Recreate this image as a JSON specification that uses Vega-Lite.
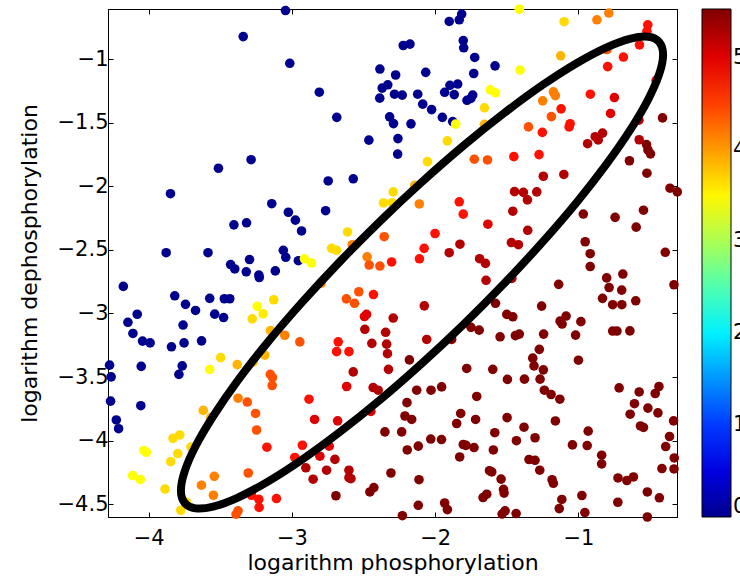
{
  "$schema": "https://vega.github.io/schema/vega-lite/v6.json",
  "width": 569,
  "height": 508,
  "autosize": {"type": "none"},
  "padding": {"left": 108, "top": 9, "right": 63, "bottom": 61},
  "background": "white",
  "config": {
    "font": "DejaVu Sans",
    "view": {"stroke": "#000000", "strokeWidth": 1},
    "axis": {"grid": false, "domainColor": "#000000", "tickColor": "#000000", "labelColor": "#000000", "titleColor": "#000000", "labelFont": "DejaVu Sans", "titleFont": "DejaVu Sans", "labelFontSize": 21, "titleFontSize": 22, "titleFontWeight": "normal", "tickSize": -5, "domainWidth": 1, "tickWidth": 1}
  },
  "layer": [
    {
      "data": {"values": [
        {"x":-3.045,"y":-0.618,"v":0},{"x":-3.340,"y":-0.823,"v":0},{"x":-3.015,"y":-1.033,"v":0},{"x":-3.285,"y":-1.791,"v":0},{"x":-3.513,"y":-1.858,"v":0},{"x":-3.848,"y":-2.058,"v":0},{"x":-3.141,"y":-2.137,"v":0},{"x":-3.025,"y":-2.204,"v":0},{"x":-2.976,"y":-2.266,"v":0},{"x":-3.317,"y":-2.287,"v":0},{"x":-3.405,"y":-2.303,"v":0},{"x":-2.933,"y":-2.351,"v":0},{"x":-3.878,"y":-2.522,"v":0},{"x":-3.586,"y":-2.522,"v":0},{"x":-3.060,"y":-2.503,"v":0},{"x":-3.043,"y":-2.558,"v":0},{"x":-3.296,"y":-2.576,"v":0},{"x":-2.955,"y":-2.585,"v":0},{"x":-3.428,"y":-2.615,"v":0},{"x":-3.399,"y":-2.650,"v":0},{"x":-3.319,"y":-2.672,"v":0},{"x":-3.231,"y":-2.698,"v":0},{"x":-3.228,"y":-2.717,"v":0},{"x":-3.116,"y":-2.665,"v":0},{"x":-4.177,"y":-2.787,"v":0},{"x":-3.818,"y":-2.861,"v":0},{"x":-3.743,"y":-2.928,"v":0},{"x":-3.673,"y":-2.976,"v":0},{"x":-3.574,"y":-2.881,"v":0},{"x":-3.472,"y":-2.884,"v":0},{"x":-3.434,"y":-2.884,"v":0},{"x":-3.539,"y":-3.005,"v":0},{"x":-3.477,"y":-3.032,"v":0},{"x":-4.080,"y":-3.006,"v":0},{"x":-4.145,"y":-3.069,"v":0},{"x":-4.110,"y":-3.157,"v":0},{"x":-4.043,"y":-3.217,"v":0},{"x":-3.990,"y":-3.231,"v":0},{"x":-3.760,"y":-3.091,"v":0},{"x":-3.753,"y":-3.231,"v":0},{"x":-3.841,"y":-3.262,"v":0},{"x":-3.631,"y":-3.215,"v":0},{"x":-4.273,"y":-3.406,"v":0},{"x":-4.262,"y":-3.498,"v":0},{"x":-4.052,"y":-3.416,"v":0},{"x":-3.766,"y":-3.412,"v":0},{"x":-3.789,"y":-3.479,"v":0},{"x":-4.266,"y":-3.689,"v":0},{"x":-4.055,"y":-3.725,"v":0},{"x":-4.226,"y":-3.837,"v":0},{"x":-4.210,"y":-3.906,"v":0},
        {"x":-1.815,"y":-0.646,"v":0},{"x":-1.832,"y":-0.691,"v":0},{"x":-1.902,"y":-0.704,"v":0},{"x":-1.804,"y":-0.854,"v":0},{"x":-1.801,"y":-0.911,"v":0},{"x":-1.724,"y":-0.987,"v":0},{"x":-1.731,"y":-1.113,"v":0},{"x":-2.223,"y":-0.893,"v":0},{"x":-2.176,"y":-0.882,"v":0},{"x":-2.386,"y":-1.078,"v":0},{"x":-2.276,"y":-1.125,"v":0},{"x":-2.066,"y":-1.104,"v":0},{"x":-2.809,"y":-1.260,"v":0},{"x":-2.370,"y":-1.228,"v":0},{"x":-2.331,"y":-1.202,"v":0},{"x":-2.387,"y":-1.307,"v":0},{"x":-2.284,"y":-1.276,"v":0},{"x":-2.230,"y":-1.283,"v":0},{"x":-2.122,"y":-1.276,"v":0},{"x":-2.087,"y":-1.354,"v":0},{"x":-2.025,"y":-1.397,"v":0},{"x":-1.934,"y":-1.261,"v":0},{"x":-1.897,"y":-1.206,"v":0},{"x":-1.843,"y":-1.196,"v":0},{"x":-1.867,"y":-1.279,"v":0},{"x":-1.738,"y":-1.283,"v":0},{"x":-1.778,"y":-1.324,"v":0},{"x":-1.751,"y":-1.309,"v":0},{"x":-2.687,"y":-1.458,"v":0},{"x":-2.318,"y":-1.454,"v":0},{"x":-2.291,"y":-1.507,"v":0},{"x":-2.169,"y":-1.509,"v":0},{"x":-1.950,"y":-1.458,"v":0},{"x":-1.878,"y":-1.491,"v":0},{"x":-2.463,"y":-1.637,"v":0},{"x":-2.260,"y":-1.625,"v":0},{"x":-2.262,"y":-1.747,"v":0},{"x":-2.747,"y":-1.958,"v":0},{"x":-2.572,"y":-1.941,"v":0},{"x":-2.765,"y":-2.192,"v":0},{"x":-1.582,"y":-1.053,"v":0},
        {"x":-1.413,"y":-0.608,"v":3.45},{"x":-1.407,"y":-1.086,"v":3.45},{"x":-1.615,"y":-1.242,"v":3.45},{"x":-1.579,"y":-1.265,"v":3.45},{"x":-1.857,"y":-1.511,"v":3.45},{"x":-2.913,"y":-2.570,"v":3.45},{"x":-2.863,"y":-2.603,"v":3.45},{"x":-3.242,"y":-2.944,"v":3.45},{"x":-3.574,"y":-3.440,"v":3.45},{"x":-4.033,"y":-4.077,"v":3.45},{"x":-4.016,"y":-4.091,"v":3.45},{"x":-4.112,"y":-4.274,"v":3.45},{"x":-4.059,"y":-4.305,"v":3.45},{"x":-3.201,"y":-3.002,"v":3.55},
        {"x":-1.100,"y":-0.706,"v":3.65},{"x":-1.656,"y":-1.383,"v":3.65},{"x":-1.915,"y":-1.643,"v":3.65},{"x":-2.054,"y":-1.806,"v":3.65},{"x":-2.293,"y":-2.044,"v":3.65},{"x":-2.361,"y":-2.131,"v":3.65},{"x":-2.300,"y":-2.129,"v":3.65},{"x":-2.612,"y":-2.359,"v":3.65},{"x":-2.723,"y":-2.488,"v":3.65},{"x":-2.688,"y":-2.503,"v":3.65},{"x":-3.127,"y":-2.892,"v":3.65},{"x":-3.277,"y":-3.042,"v":3.65},{"x":-3.497,"y":-3.347,"v":3.65},{"x":-3.830,"y":-3.982,"v":3.65},{"x":-3.783,"y":-3.955,"v":3.65},{"x":-3.797,"y":-4.101,"v":3.65},{"x":-3.846,"y":-4.165,"v":3.65},{"x":-3.705,"y":-4.050,"v":3.65},{"x":-3.886,"y":-4.380,"v":3.65},{"x":-3.738,"y":-4.482,"v":3.65},{"x":-3.776,"y":-4.547,"v":3.65},
        {"x":-1.124,"y":-0.974,"v":3.85},{"x":-1.656,"y":-1.513,"v":3.85},{"x":-2.143,"y":-1.993,"v":3.85},{"x":-3.382,"y":-3.402,"v":3.85},{"x":-3.271,"y":-3.380,"v":3.85},{"x":-3.189,"y":-3.327,"v":3.85},{"x":-3.150,"y":-3.134,"v":3.85},{"x":-3.619,"y":-3.762,"v":3.85},{"x":-3.567,"y":-3.819,"v":3.85},
        {"x":-0.871,"y":-0.691,"v":4.15},{"x":-0.788,"y":-0.638,"v":4.15},{"x":-1.250,"y":-1.328,"v":4.15},{"x":-1.175,"y":-1.257,"v":4.15},{"x":-1.161,"y":-1.287,"v":4.15},{"x":-2.111,"y":-2.139,"v":4.15},{"x":-2.579,"y":-2.459,"v":4.15},{"x":-3.050,"y":-3.171,"v":4.15},{"x":-3.376,"y":-3.666,"v":4.15},{"x":-2.796,"y":-2.761,"v":4.15},{"x":-3.632,"y":-4.350,"v":4.15},{"x":-3.542,"y":-4.280,"v":4.15},{"x":-3.548,"y":-4.429,"v":4.15},{"x":-2.475,"y":-2.554,"v":4.15},
        {"x":-1.727,"y":-1.787,"v":4.4},{"x":-1.635,"y":-1.793,"v":4.4},{"x":-1.349,"y":-1.533,"v":4.4},{"x":-0.801,"y":-0.925,"v":4.4},{"x":-2.356,"y":-2.396,"v":4.4},{"x":-2.461,"y":-2.619,"v":4.4},{"x":-2.386,"y":-2.627,"v":4.4},{"x":-2.620,"y":-2.885,"v":4.4},{"x":-2.563,"y":-2.920,"v":4.4},{"x":-2.533,"y":-2.829,"v":4.4},{"x":-2.945,"y":-3.223,"v":4.4},{"x":-3.151,"y":-3.479,"v":4.4},{"x":-3.136,"y":-3.504,"v":4.4},{"x":-3.138,"y":-3.566,"v":4.4},{"x":-3.312,"y":-3.696,"v":4.4},{"x":-3.254,"y":-3.786,"v":4.4},{"x":-3.247,"y":-3.916,"v":4.4},{"x":-3.305,"y":-4.254,"v":4.4},{"x":-3.376,"y":-4.551,"v":4.4},{"x":-3.390,"y":-4.579,"v":4.4},{"x":-1.189,"y":-1.452,"v":4.4},
        {"x":-0.516,"y":-0.730,"v":4.75},{"x":-0.522,"y":-0.783,"v":4.75},{"x":-0.574,"y":-0.888,"v":4.75},{"x":-0.686,"y":-0.984,"v":4.75},{"x":-0.796,"y":-1.059,"v":4.75},{"x":-0.458,"y":-1.167,"v":4.75},{"x":-0.917,"y":-1.276,"v":4.75},{"x":-1.121,"y":-1.391,"v":4.75},{"x":-1.058,"y":-1.508,"v":4.75},{"x":-1.065,"y":-1.533,"v":4.75},{"x":-1.252,"y":-1.576,"v":4.75},{"x":-1.451,"y":-1.767,"v":4.75},{"x":-1.275,"y":-1.751,"v":4.75},{"x":-1.832,"y":-2.122,"v":4.75},{"x":-1.804,"y":-2.219,"v":4.75},{"x":-2.001,"y":-2.371,"v":4.75},{"x":-2.077,"y":-2.488,"v":4.75},{"x":-2.110,"y":-2.570,"v":4.75},{"x":-2.304,"y":-2.595,"v":4.75},{"x":-2.431,"y":-2.851,"v":4.75},{"x":-2.677,"y":-3.223,"v":4.75},{"x":-2.688,"y":-3.300,"v":4.75},{"x":-2.602,"y":-3.300,"v":4.75},{"x":-2.881,"y":-3.674,"v":4.75},{"x":-2.927,"y":-4.036,"v":4.75},{"x":-2.980,"y":-4.132,"v":4.75},{"x":-3.175,"y":-4.051,"v":4.75},{"x":-3.282,"y":-4.429,"v":4.75},{"x":-3.231,"y":-4.461,"v":4.75},{"x":-3.229,"y":-4.524,"v":4.75},{"x":-3.108,"y":-4.455,"v":4.75},
        {"x":-2.494,"y":-3.024,"v":5.0},{"x":-2.479,"y":-3.007,"v":5.0},{"x":-2.618,"y":-3.574,"v":5.0},{"x":-2.842,"y":-3.833,"v":5.0},{"x":-2.681,"y":-3.844,"v":5.0},{"x":-2.740,"y":-4.043,"v":5.0},{"x":-2.805,"y":-4.122,"v":5.0},{"x":-0.776,"y":-1.427,"v":5.0},{"x":-0.749,"y":-1.302,"v":5.0},{"x":-1.632,"y":-2.298,"v":5.0},{"x":-2.449,"y":-3.770,"v":5.0},
        {"x":-2.700,"y":-4.147,"v":5.25},{"x":-2.903,"y":-4.213,"v":5.25},{"x":-2.852,"y":-4.303,"v":5.25},{"x":-2.758,"y":-4.232,"v":5.25},{"x":-2.602,"y":-4.232,"v":5.25},{"x":-2.602,"y":-4.291,"v":5.25},{"x":-2.588,"y":-4.299,"v":5.25},{"x":-2.491,"y":-3.124,"v":5.25},{"x":-2.346,"y":-3.148,"v":5.25},{"x":-2.293,"y":-3.036,"v":5.25},{"x":-2.442,"y":-3.235,"v":5.25},{"x":-2.339,"y":-3.241,"v":5.25},{"x":-2.333,"y":-3.316,"v":5.25},{"x":-2.326,"y":-3.439,"v":5.25},{"x":-2.572,"y":-3.459,"v":5.25},{"x":-2.076,"y":-2.940,"v":5.25},{"x":-2.059,"y":-3.204,"v":5.25},{"x":-2.433,"y":-3.582,"v":5.25},{"x":-2.398,"y":-3.603,"v":5.25},{"x":-1.827,"y":-2.455,"v":5.25},{"x":-1.902,"y":-2.522,"v":5.25},{"x":-1.690,"y":-2.569,"v":5.25},{"x":-1.649,"y":-2.606,"v":5.25},{"x":-1.645,"y":-2.739,"v":5.25},{"x":-1.465,"y":-2.724,"v":5.25},{"x":-0.883,"y":-1.610,"v":5.25},{"x":-0.936,"y":-1.665,"v":5.25},{"x":-0.862,"y":-1.635,"v":5.25},{"x":-0.832,"y":-1.582,"v":5.25},{"x":-0.578,"y":-1.480,"v":5.25},{"x":-0.576,"y":-1.634,"v":5.25},{"x":-1.102,"y":-1.907,"v":5.25},{"x":-1.245,"y":-1.921,"v":5.25},{"x":-1.446,"y":-2.042,"v":5.25},{"x":-1.384,"y":-2.048,"v":5.25},{"x":-1.291,"y":-2.044,"v":5.25},{"x":-1.356,"y":-2.107,"v":5.25},{"x":-1.458,"y":-2.196,"v":5.25},{"x":-1.354,"y":-2.346,"v":5.25},{"x":-1.468,"y":-2.442,"v":5.25},{"x":-1.419,"y":-2.459,"v":5.25},
        {"x":-0.413,"y":-1.462,"v":5.53},{"x":-0.525,"y":-1.672,"v":5.53},{"x":-0.515,"y":-1.714,"v":5.53},{"x":-0.497,"y":-1.745,"v":5.53},{"x":-0.644,"y":-1.799,"v":5.53},{"x":-0.522,"y":-1.897,"v":5.53},{"x":-0.361,"y":-2.015,"v":5.53},{"x":-0.310,"y":-2.044,"v":5.53},{"x":-0.546,"y":-2.188,"v":5.53},{"x":-0.597,"y":-2.321,"v":5.53},{"x":-0.744,"y":-2.244,"v":5.53},{"x":-0.966,"y":-2.218,"v":5.53},{"x":-0.953,"y":-2.436,"v":5.53},{"x":-0.918,"y":-2.530,"v":5.53},{"x":-0.918,"y":-2.631,"v":5.53},{"x":-0.803,"y":-2.720,"v":5.53},{"x":-0.786,"y":-2.796,"v":5.53},{"x":-0.690,"y":-2.690,"v":5.53},{"x":-0.698,"y":-2.816,"v":5.53},{"x":-0.832,"y":-2.881,"v":5.53},{"x":-0.761,"y":-2.931,"v":5.53},{"x":-0.697,"y":-2.931,"v":5.53},{"x":-0.600,"y":-2.900,"v":5.53},{"x":-0.394,"y":-2.519,"v":5.53},{"x":-0.333,"y":-2.774,"v":5.53},{"x":-1.138,"y":-2.771,"v":5.53},{"x":-1.257,"y":-2.942,"v":5.53},{"x":-1.500,"y":-3.007,"v":5.53},{"x":-1.458,"y":-3.026,"v":5.53},{"x":-1.579,"y":-2.920,"v":5.53},{"x":-1.547,"y":-3.183,"v":5.53},{"x":-1.440,"y":-3.174,"v":5.53},{"x":-1.413,"y":-3.162,"v":5.53},{"x":-1.750,"y":-3.109,"v":5.53},{"x":-1.693,"y":-3.131,"v":5.53},{"x":-1.128,"y":-3.060,"v":5.53},{"x":-1.114,"y":-3.083,"v":5.53},{"x":-1.086,"y":-3.020,"v":5.53},{"x":-0.983,"y":-3.064,"v":5.53},{"x":-1.020,"y":-3.170,"v":5.53},{"x":-1.243,"y":-3.162,"v":5.53},{"x":-0.761,"y":-3.138,"v":5.53},{"x":-0.731,"y":-3.138,"v":5.53},{"x":-0.641,"y":-3.137,"v":5.53},{"x":-1.273,"y":-3.282,"v":5.53},{"x":-1.319,"y":-3.351,"v":5.53},{"x":-1.310,"y":-3.412,"v":5.53},{"x":-1.245,"y":-3.443,"v":5.53},{"x":-1.268,"y":-3.516,"v":5.53},{"x":-1.000,"y":-3.367,"v":5.53},{"x":-1.598,"y":-3.439,"v":5.53},{"x":-1.496,"y":-3.518,"v":5.53},{"x":-1.377,"y":-3.516,"v":5.53},{"x":-1.780,"y":-3.432,"v":5.53},{"x":-1.885,"y":-3.204,"v":5.53},{"x":-2.180,"y":-3.365,"v":5.53},{"x":-2.129,"y":-3.603,"v":5.53},{"x":-2.029,"y":-3.603,"v":5.53},{"x":-1.955,"y":-3.577,"v":5.53},{"x":-1.710,"y":-3.652,"v":5.53},{"x":-2.197,"y":-3.701,"v":5.53},{"x":-2.211,"y":-3.806,"v":5.53},{"x":-2.164,"y":-3.833,"v":5.53},{"x":-1.822,"y":-3.786,"v":5.53},{"x":-1.850,"y":-3.865,"v":5.53},{"x":-1.718,"y":-3.833,"v":5.53},{"x":-2.351,"y":-3.931,"v":5.53},{"x":-2.234,"y":-3.931,"v":5.53},{"x":-2.031,"y":-3.987,"v":5.53},{"x":-1.956,"y":-3.991,"v":5.53},{"x":-2.195,"y":-4.073,"v":5.53},{"x":-2.118,"y":-4.043,"v":5.53},{"x":-1.804,"y":-4.030,"v":5.53},{"x":-1.785,"y":-4.037,"v":5.53},{"x":-1.729,"y":-4.054,"v":5.53},{"x":-1.829,"y":-4.128,"v":5.53},{"x":-2.309,"y":-4.254,"v":5.53},{"x":-2.113,"y":-4.307,"v":5.53},{"x":-2.456,"y":-4.403,"v":5.53},{"x":-2.428,"y":-4.369,"v":5.53},{"x":-2.693,"y":-4.433,"v":5.53},{"x":-2.118,"y":-4.508,"v":5.53},{"x":-1.934,"y":-4.490,"v":5.53},{"x":-1.915,"y":-4.542,"v":5.53},{"x":-2.229,"y":-4.590,"v":5.53},{"x":-1.621,"y":-4.236,"v":5.53},{"x":-1.605,"y":-4.246,"v":5.53},{"x":-1.540,"y":-4.302,"v":5.53},{"x":-1.523,"y":-4.382,"v":5.53},{"x":-1.519,"y":-4.412,"v":5.53},{"x":-1.640,"y":-4.421,"v":5.53},{"x":-1.666,"y":-4.447,"v":5.53},{"x":-1.512,"y":-4.551,"v":5.53},{"x":-1.533,"y":-4.577,"v":5.53},{"x":-1.435,"y":-4.573,"v":5.53},{"x":-1.238,"y":-3.603,"v":5.53},{"x":-1.191,"y":-3.637,"v":5.53},{"x":-1.130,"y":-3.674,"v":5.53},{"x":-0.716,"y":-3.585,"v":5.53},{"x":-0.576,"y":-3.617,"v":5.53},{"x":-0.464,"y":-3.629,"v":5.53},{"x":-0.438,"y":-3.574,"v":5.53},{"x":-0.609,"y":-3.709,"v":5.53},{"x":-0.639,"y":-3.792,"v":5.53},{"x":-0.515,"y":-3.744,"v":5.53},{"x":-0.445,"y":-3.781,"v":5.53},{"x":-0.567,"y":-3.884,"v":5.53},{"x":-0.546,"y":-3.896,"v":5.53},{"x":-0.336,"y":-3.844,"v":5.53},{"x":-0.364,"y":-3.967,"v":5.53},{"x":-0.391,"y":-4.046,"v":5.53},{"x":-0.331,"y":-4.136,"v":5.53},{"x":-0.333,"y":-4.222,"v":5.53},{"x":-0.417,"y":-4.219,"v":5.53},{"x":-1.498,"y":-3.819,"v":5.53},{"x":-1.380,"y":-3.894,"v":5.53},{"x":-1.303,"y":-3.977,"v":5.53},{"x":-1.433,"y":-4.000,"v":5.53},{"x":-1.584,"y":-3.937,"v":5.53},{"x":-1.594,"y":-4.073,"v":5.53},{"x":-1.161,"y":-3.845,"v":5.53},{"x":-1.042,"y":-4.033,"v":5.53},{"x":-0.939,"y":-4.038,"v":5.53},{"x":-0.932,"y":-3.925,"v":5.53},{"x":-0.838,"y":-4.114,"v":5.53},{"x":-0.838,"y":-4.183,"v":5.53},{"x":-1.345,"y":-4.148,"v":5.53},{"x":-1.303,"y":-4.154,"v":5.53},{"x":-1.270,"y":-4.232,"v":5.53},{"x":-1.184,"y":-4.307,"v":5.53},{"x":-1.175,"y":-4.335,"v":5.53},{"x":-1.116,"y":-4.462,"v":5.53},{"x":-1.134,"y":-4.534,"v":5.53},{"x":-0.976,"y":-4.431,"v":5.53},{"x":-0.955,"y":-4.565,"v":5.53},{"x":-0.724,"y":-4.293,"v":5.53},{"x":-0.662,"y":-4.313,"v":5.53},{"x":-0.616,"y":-4.285,"v":5.53},{"x":-0.725,"y":-4.484,"v":5.53},{"x":-0.519,"y":-4.403,"v":5.53},{"x":-0.435,"y":-4.449,"v":5.53},{"x":-0.519,"y":-4.600,"v":5.53}
      ]},
      "mark": {"type": "circle", "size": 92, "opacity": 1},
      "encoding": {
        "x": {"field": "x", "type": "quantitative", "scale": {"domain": [-4.284, -0.312], "nice": false, "zero": false},
          "axis": {"orient": "bottom", "title": "logarithm phosphorylation", "values": [-4, -3, -2, -1], "format": "~g", "labelPadding": 15.5, "titlePadding": 3.5}},
        "y": {"field": "y", "type": "quantitative", "scale": {"domain": [-4.6, -0.606], "nice": false, "zero": false},
          "axis": {"orient": "left", "title": "logarithm dephosphorylation", "values": [-4.5, -4, -3.5, -3, -2.5, -2, -1.5, -1], "format": "~g", "labelPadding": 5, "titlePadding": 16}},
        "color": {"field": "v", "type": "quantitative",
          "scale": {"domain": [0, 0.691, 2.074, 3.456, 4.839, 5.53], "range": ["#00008f", "#0000ff", "#00ffff", "#ffff00", "#ff0000", "#800000"], "interpolate": "rgb"},
          "legend": {"orient": "none", "legendX": 594, "legendY": 0, "direction": "vertical", "gradientLength": 508, "gradientThickness": 29, "gradientStrokeColor": "#000000", "gradientStrokeWidth": 1, "title": null, "values": [0, 1, 2, 3, 4, 5], "labelFontSize": 21, "labelFont": "DejaVu Sans", "labelColor": "#000000", "labelOffset": 2, "labelOverlap": false, "padding": 0}}
      }
    },
    {
      "data": {"values": [
        {"t":0,"x":-0.409,"y":-0.965},{"t":10,"x":-0.435,"y":-0.867},{"t":20,"x":-0.511,"y":-0.824},{"t":30,"x":-0.635,"y":-0.838},{"t":40,"x":-0.803,"y":-0.907},{"t":50,"x":-1.010,"y":-1.030},{"t":60,"x":-1.251,"y":-1.204},{"t":70,"x":-1.517,"y":-1.423},{"t":80,"x":-1.800,"y":-1.678},{"t":90,"x":-2.092,"y":-1.965},{"t":100,"x":-2.384,"y":-2.273},{"t":110,"x":-2.667,"y":-2.594},{"t":120,"x":-2.933,"y":-2.917},{"t":130,"x":-3.174,"y":-3.233},{"t":140,"x":-3.381,"y":-3.532},{"t":150,"x":-3.549,"y":-3.806},{"t":160,"x":-3.673,"y":-4.044},{"t":170,"x":-3.749,"y":-4.242},{"t":180,"x":-3.775,"y":-4.392},{"t":190,"x":-3.749,"y":-4.489},{"t":200,"x":-3.673,"y":-4.532},{"t":210,"x":-3.549,"y":-4.518},{"t":220,"x":-3.381,"y":-4.449},{"t":230,"x":-3.174,"y":-4.326},{"t":240,"x":-2.933,"y":-4.152},{"t":250,"x":-2.667,"y":-3.933},{"t":260,"x":-2.384,"y":-3.678},{"t":270,"x":-2.092,"y":-3.391},{"t":280,"x":-1.800,"y":-3.083},{"t":290,"x":-1.517,"y":-2.762},{"t":300,"x":-1.251,"y":-2.439},{"t":310,"x":-1.010,"y":-2.123},{"t":320,"x":-0.803,"y":-1.824},{"t":330,"x":-0.635,"y":-1.551},{"t":340,"x":-0.511,"y":-1.312},{"t":350,"x":-0.435,"y":-1.114}
      ]},
      "mark": {"type": "line", "interpolate": "cardinal-closed", "stroke": "#000000", "strokeWidth": 8, "strokeJoin": "round", "strokeCap": "round"},
      "encoding": {
        "x": {"field": "x", "type": "quantitative", "scale": {"domain": [-4.284, -0.312], "nice": false, "zero": false},
          "axis": {"orient": "top", "labels": false, "title": null, "values": [-4, -3, -2, -1]}},
        "y": {"field": "y", "type": "quantitative", "scale": {"domain": [-4.6, -0.606], "nice": false, "zero": false},
          "axis": {"orient": "right", "labels": false, "title": null, "values": [-4.5, -4, -3.5, -3, -2.5, -2, -1.5, -1]}},
        "order": {"field": "t", "type": "quantitative"}
      }
    }
  ],
  "resolve": {"axis": {"x": "independent", "y": "independent"}}
}
